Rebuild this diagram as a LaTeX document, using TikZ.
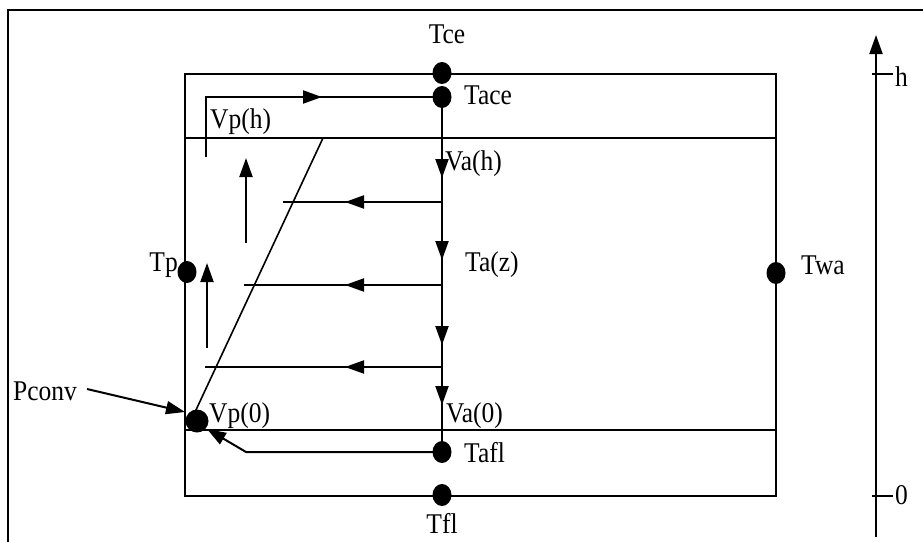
\documentclass[tikz,border=0pt]{standalone}
\usepackage{fontspec}
\setmainfont{Liberation Serif}
\usetikzlibrary{arrows.meta,shapes.geometric}
\newcommand\stretchtxt[1]{\scalebox{1}[1.12]{#1}}
\begin{document}
\begin{tikzpicture}[x=1pt,y=-1pt,
  dot/.style={ellipse,fill=black,inner sep=0pt,minimum width=19pt,minimum height=22pt},
  bigdot/.style={circle,fill=black,inner sep=0pt,minimum size=23pt},
  lbl/.style={inner sep=0pt,font=\fontsize{25.5}{30}\selectfont},
  ln/.style={line width=2pt},
  thinln/.style={line width=1.6pt},
  tip/.style={-{Triangle[length=19pt,width=13pt]}},
  ]
\useasboundingbox (0,0) rectangle (923,541);
\begin{scope}
\clip (0,0) rectangle (923,541);
\draw[ln] (8,10) rectangle (960,580);
\end{scope}
% main box
\draw[ln] (185,74) rectangle (776,496);
\draw[thinln] (185,138) -- (776,138);
\draw[thinln] (185,430) -- (776,430);
% dots
\node[dot] (tce) at (442,73) {};
\node[dot] (tace) at (442,97) {};
\node[dot] (tafl) at (442,452) {};
\node[dot] (tfl) at (442,495) {};
\node[dot] (tp) at (187,272) {};
\node[dot] (twa) at (776,273) {};
% coordinates
\coordinate (vpstart) at (206,157);
\coordinate (vpcorner) at (206,97);
\coordinate (diagtop) at (323,138);
\coordinate (diagbot) at (195.5,411);
\coordinate (aflcorner) at (246,452);
\coordinate (afltip) at (207,429);
% centre line and its arrow heads
\draw[ln] (tace.center) -- (tafl.center);
\draw[ln,tip] (442,150) -- (442,178);
\draw[ln,tip] (442,232) -- (442,260);
\draw[ln,tip] (442,317) -- (442,345);
\draw[ln,tip] (442,377) -- (442,405);
% Vp path
\draw[ln] (vpstart) -- (vpcorner) -- (tace.center);
\draw[ln,tip] (290,97) -- (322,97);
% up arrows
\draw[ln,tip] (246,243) -- (246,158);
\draw[ln,tip] (207,348) -- (207,263);
% horizontal rows
\draw[ln] (442,202) -- (283,202);
\draw[ln,tip] (442,202) -- (345,202);
\draw[ln] (442,285) -- (244,285);
\draw[ln,tip] (442,285) -- (345,285);
\draw[ln] (442,367) -- (205,367);
\draw[ln,tip] (442,367) -- (345,367);
% diagonal
\draw[thinln] (diagtop) -- (diagbot);
\node[bigdot] (pc) at (197,421) {};
% Tafl arrow
\draw[ln,tip] (tafl.center) -- (aflcorner) -- (afltip);
% labels
\node[lbl,anchor=base] (ltce) at (447,43) {\stretchtxt{Tce}};
\node[lbl,anchor=base west] (ltace) at (464,104) {\stretchtxt{Tace}};
\node[lbl,anchor=base west] (lvah) at (445,170) {\stretchtxt{Va(h)}};
\node[lbl,anchor=base west] (ltaz) at (465,271) {\stretchtxt{Ta(z)}};
\node[lbl,anchor=base west] (ltwa) at (801,274) {\stretchtxt{Twa}};
\node[lbl,anchor=base east] (ltp) at (178,271) {\stretchtxt{Tp}};
\node[lbl,anchor=base west] (lvph) at (210,128) {\stretchtxt{Vp(h)}};
\node[lbl,anchor=base west] (lvp0) at (209,422) {\stretchtxt{Vp(0)}};
\node[lbl,anchor=base west] (lva0) at (446,422) {\stretchtxt{Va(0)}};
\node[lbl,anchor=base west] (lpconv) at (13,400) {\stretchtxt{Pconv}};
\node[lbl,anchor=base west] (ltafl) at (464,462) {\stretchtxt{Tafl}};
\node[lbl,anchor=base] (ltfl) at (442,533) {\stretchtxt{Tfl}};
\node[lbl,anchor=base west] (lh) at (895,86) {\stretchtxt{h}};
\node[lbl,anchor=base west] (l0) at (895,504) {\stretchtxt{0}};
% Pconv arrow
\coordinate (pcfrom) at (87,389);
\coordinate (pcto) at (185,412);
\draw[ln,tip] (pcfrom) -- (pcto);
% axis
\coordinate (axbot) at (876,537);
\coordinate (axtop) at (876,35);
\draw[ln,tip] (axbot) -- (axtop);
\draw[ln] (872,74) -- (893,74);
\draw[ln] (872,496) -- (893,496);
\end{tikzpicture}
\end{document}
